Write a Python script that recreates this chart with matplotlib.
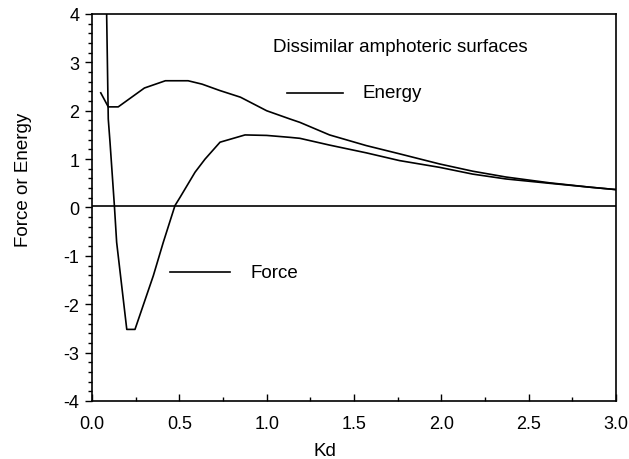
import matplotlib
matplotlib.use('Agg')
import matplotlib.pyplot as plt
from matplotlib.ticker import MultipleLocator

plt.rcParams['font.family'] = ['Liberation Sans', 'DejaVu Sans']
plt.rcParams['axes.unicode_minus'] = False

# Curvas de fuerza y energía en función de Kd
fuerza_x = [0.082, 0.093, 0.103, 0.128, 0.141, 0.199, 0.246, 0.351, 0.408, 0.475,
            0.504, 0.59, 0.647, 0.733, 0.876, 1.0, 1.133, 1.19, 1.36, 1.57,
            1.76, 1.99, 2.18, 2.37, 2.62, 2.85, 3.0]
fuerza_y = [4.4, 1.83, 1.35, 0.04, -0.72, -2.52, -2.52, -1.41, -0.72, 0.04,
            0.21, 0.73, 1.0, 1.35, 1.50, 1.49, 1.45, 1.43, 1.29, 1.13,
            0.97, 0.83, 0.69, 0.59, 0.50, 0.42, 0.37]

energia_x = [0.05, 0.093, 0.15, 0.30, 0.42, 0.55, 0.63, 0.73, 0.85, 1.0,
             1.133, 1.19, 1.36, 1.57, 1.76, 1.99, 2.18, 2.37, 2.62, 2.85, 3.0]
energia_y = [2.37, 2.08, 2.08, 2.47, 2.62, 2.62, 2.55, 2.42, 2.28, 2.0,
             1.83, 1.76, 1.50, 1.28, 1.11, 0.90, 0.75, 0.63, 0.51, 0.42, 0.37]

# Línea base
base_x = [0.0, 3.0]
base_y = [0.03, 0.03]

fig = plt.figure(figsize=(6.29, 4.60), dpi=100)
ax = fig.add_axes([0.1463, 0.1261, 0.8330, 0.8413])

ax.plot(fuerza_x, fuerza_y, color='black', lw=1.2)
ax.plot(energia_x, energia_y, color='black', lw=1.2)
ax.plot(base_x, base_y, color='black', lw=1.2)

ax.set_xlim(0, 3.0)
ax.set_ylim(-4, 4)

ax.xaxis.set_major_locator(MultipleLocator(0.5))
ax.xaxis.set_minor_locator(MultipleLocator(0.25))
ax.yaxis.set_major_locator(MultipleLocator(1))
ax.yaxis.set_minor_locator(MultipleLocator(0.2))
ax.set_xticks([0, 0.5, 1.0, 1.5, 2.0, 2.5, 3.0])
ax.set_xticklabels(['0.0', '0.5', '1.0', '1.5', '2.0', '2.5', '3.0'])

ax.tick_params(axis='x', which='both', direction='in', top=False, labelsize=13, pad=10)
ax.tick_params(axis='x', which='major', length=5, width=1)
ax.tick_params(axis='x', which='minor', length=3, width=1)
ax.tick_params(axis='y', which='both', direction='out', right=False, labelsize=13, pad=4)
ax.tick_params(axis='y', which='major', length=5, width=1)
ax.tick_params(axis='y', which='minor', length=3, width=1)

for s in ax.spines.values():
    s.set_linewidth(1.2)

ax.set_xlabel('Kd', fontsize=13.5, va='center', ha='center')
ax.xaxis.set_label_coords(0.445, -0.129)
ax.set_ylabel('Force or Energy', fontsize=13.5, va='center', ha='center')
ax.yaxis.set_label_coords(-0.130, 0.574)

# Título y leyenda dibujados dentro del gráfico
ax.text(0.345, 0.917, 'Dissimilar amphoteric surfaces', transform=ax.transAxes,
        fontsize=13.5, va='center', ha='left')
ax.plot([0.372, 0.479], [0.796, 0.796], color='black', lw=1.2, transform=ax.transAxes)
ax.text(0.517, 0.796, 'Energy', transform=ax.transAxes, fontsize=13.5, va='center', ha='left')
ax.plot([0.149, 0.263], [0.333, 0.333], color='black', lw=1.2, transform=ax.transAxes)
ax.text(0.302, 0.333, 'Force', transform=ax.transAxes, fontsize=13.5, va='center', ha='left')

fig.savefig('out.png', dpi=100)
